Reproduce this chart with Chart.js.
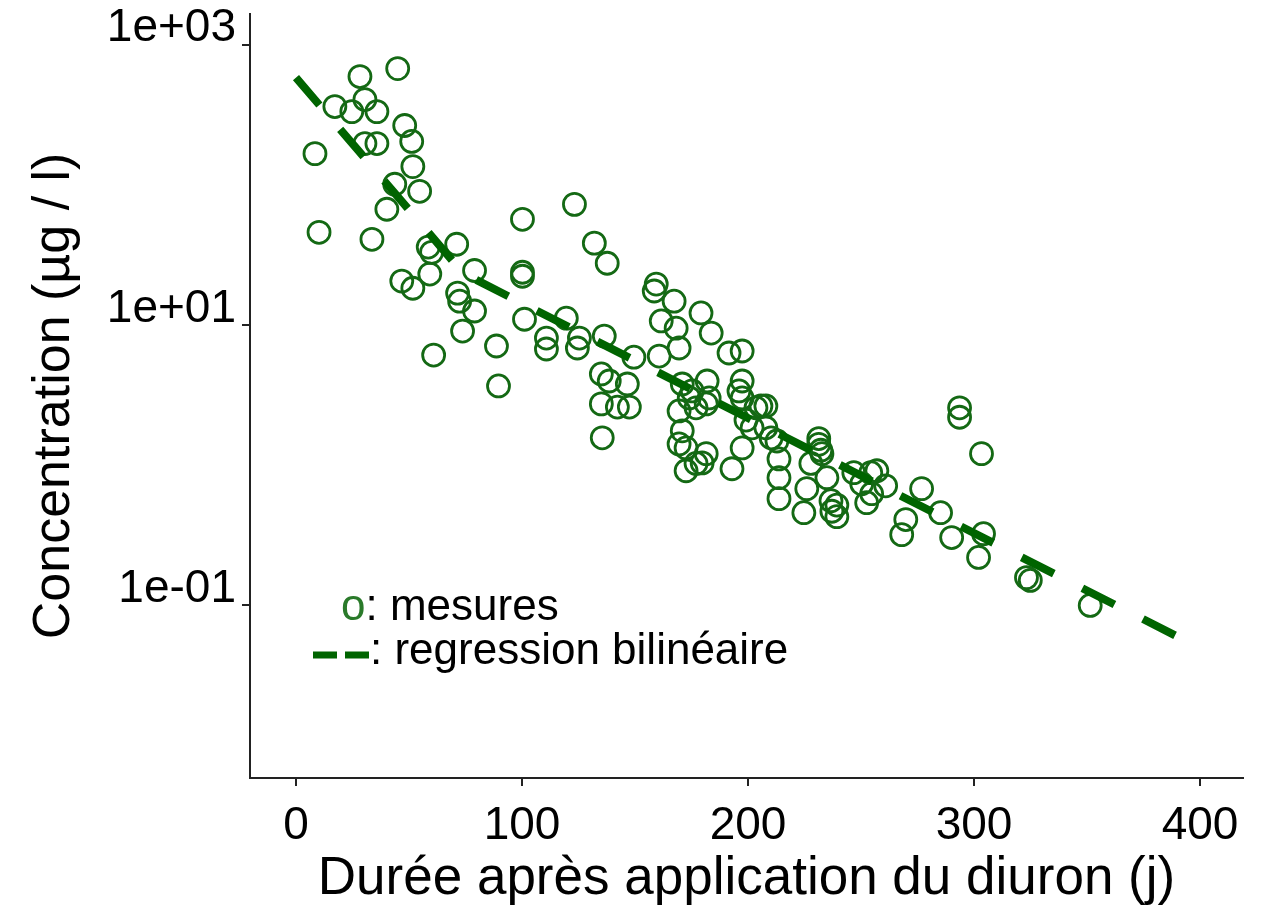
<!DOCTYPE html>
<html lang="fr">
<head>
<meta charset="utf-8">
<title>Diuron - concentration</title>
<script src="https://cdn.jsdelivr.net/npm/chart.js@4.4.1/dist/chart.umd.min.js"></script>
<style>
  html, body { margin: 0; padding: 0; background: #fff; }
  #wrap { width: 1268px; height: 910px; }
</style>
</head>
<body>
<div id="wrap"><canvas id="chart" width="1268" height="910"></canvas></div>
<script>
// mesures (jours après application, concentration en µg/l)
const jours = [
  8.4, 10.2, 17.2, 24.7, 28.3, 30.5, 30.5, 33.6, 35.8, 35.8,
  40.2, 43.7, 45.0, 46.8, 48.1, 51.2, 51.7, 51.7, 54.7, 58.5,
  60.0, 59.2, 60.9, 71.1, 71.5, 72.4, 73.7, 79.0, 79.0, 88.7,
  89.6, 100.2, 100.2, 100.2, 101.1, 110.8, 110.8, 119.6, 123.2, 124.5,
  125.4, 132.0, 135.1, 135.1, 135.5, 136.4, 137.7, 138.6, 142.2, 146.6,
  147.5, 149.5, 158.5, 159.4, 160.7, 161.6, 167.3, 168.2, 169.5, 169.5,
  169.5, 170.9, 170.9, 172.6, 172.6, 174.0, 175.3, 177.0, 177.0, 179.2,
  179.7, 181.5, 181.5, 181.9, 182.8, 183.7, 191.6, 192.9, 196.0, 197.4,
  197.4, 197.4, 197.4, 199.1, 201.8, 203.5, 205.7, 207.9, 207.9, 210.2,
  212.8, 213.7, 213.7, 213.7, 224.7, 226.0, 227.8, 231.3, 231.3, 232.2,
  232.7, 234.9, 236.7, 239.3, 237.1, 239.3, 246.8, 250.3, 252.5, 254.3,
  254.7, 257.0, 260.9, 268.0, 269.8, 276.8, 285.2, 290.1, 293.6, 293.6,
  302.0, 303.3, 304.2, 323.2, 324.9, 351.4
];
const concentrations = [
  167, 45.9, 362, 333, 592, 406, 197, 40.9, 333, 197,
  67, 101, 675, 20.6, 265, 204, 135, 18.3, 90, 36,
  33, 23.1, 6.11, 37.7, 16.9, 14.8, 9.06, 24.5, 12.6, 7.09,
  3.68, 56.8, 23.8, 22.3, 11.0, 8.08, 6.75, 11.2, 72.6, 6.86,
  8.08, 38.4, 4.48, 2.74, 1.57, 8.35, 27.6, 3.99, 2.6, 3.80,
  2.6, 5.9, 17.5, 19.6, 6.01, 10.7, 14.8, 9.5, 6.86, 2.44,
  1.42, 3.80, 1.76, 1.33, 0.914, 3.02, 3.39, 2.57, 1.03, 12.2,
  1.04, 2.74, 1.21, 3.99, 3.02, 8.77, 6.32, 0.944, 3.39, 6.53,
  3.99, 3.02, 1.33, 2.1, 1.85, 2.57, 2.65, 2.65, 1.85, 1.57,
  1.49, 1.11, 0.815, 0.578, 0.459, 0.681, 1.03, 1.55, 1.41, 1.28,
  1.21, 0.815, 0.559, 0.52, 0.47, 0.43, 0.885, 0.738, 0.541, 0.885,
  0.627, 0.914, 0.714, 0.32, 0.41, 0.681, 0.459, 0.305, 2.57, 2.2,
  0.220, 1.21, 0.325, 0.158, 0.151, 0.100
];

// régression bilinéaire (deux segments en échelle log)
const regJours = [0, 74, 390];
const regConc = [582, 23.4, 0.060];

const xTicks = [0, 100, 200, 300, 400];
const yTicks = [0.1, 10, 1000];
const yTickLabels = ['1e-01', '1e+01', '1e+03'];

const police = '"Liberation Sans", Arial, Helvetica, sans-serif';
const vertPoints = '#146914';
const vertLigne = '#006400';
const noir = '#000';

const legendeTexte = {
  id: 'legendeTexte',
  afterDraw(chart) {
    const ctx = chart.ctx;
    ctx.save();
    ctx.font = '44px ' + police;
    ctx.textBaseline = 'alphabetic';
    ctx.textAlign = 'left';
    ctx.fillStyle = '#2a7a2a';
    ctx.fillText('o', 341, 620);
    const w = ctx.measureText('o').width;
    ctx.fillStyle = noir;
    ctx.fillText(': mesures', 341 + w, 620);

    ctx.strokeStyle = vertLigne;
    ctx.lineWidth = 7;
    ctx.lineCap = 'butt';
    ctx.beginPath();
    ctx.moveTo(313, 655); ctx.lineTo(337, 655);
    ctx.moveTo(345, 655); ctx.lineTo(369, 655);
    ctx.stroke();
    ctx.fillStyle = noir;
    ctx.fillText(': regression bilinéaire', 370, 664);
    ctx.restore();
  }
};

const mesures = jours.map((j, i) => ({ x: j, y: concentrations[i] }));
const regression = regJours.map((j, i) => ({ x: j, y: regConc[i] }));

new Chart(document.getElementById('chart'), {
  type: 'scatter',
  data: {
    datasets: [
      {
        label: 'regression bilinéaire',
        type: 'line',
        data: regression,
        borderColor: vertLigne,
        borderWidth: 8,
        borderDash: [36, 32],
        borderCapStyle: 'butt',
        pointRadius: 0,
        fill: false,
        tension: 0,
        order: 0
      },
      {
        label: 'mesures',
        data: mesures,
        pointStyle: 'circle',
        pointRadius: 11,
        pointBorderWidth: 2.8,
        pointBackgroundColor: 'rgba(0,0,0,0)',
        pointBorderColor: vertPoints,
        pointHoverRadius: 11,
        order: 1
      }
    ]
  },
  options: {
    responsive: false,
    devicePixelRatio: 1,
    animation: false,
    events: [],
    layout: { padding: { top: 12, right: 25, left: 0, bottom: 0 } },
    plugins: {
      legend: { display: false },
      tooltip: { enabled: false }
    },
    scales: {
      x: {
        type: 'linear',
        min: -20.35,
        max: 419,
        afterBuildTicks: (scale) => {
          scale.ticks = xTicks.map(v => ({ value: v }));
        },
        afterFit: (scale) => {
          scale.height = 132;
          scale.paddingLeft = 0;
          scale.paddingRight = 0;
        },
        ticks: {
          color: noir,
          padding: 17,
          maxRotation: 0,
          font: { family: police, size: 46, lineHeight: 1 }
        },
        grid: {
          drawOnChartArea: false,
          drawTicks: true,
          tickLength: 8,
          color: '#222',
          lineWidth: 2
        },
        border: { display: true, color: '#222', width: 2 },
        title: {
          display: true,
          text: 'Durée après application du diuron (j)',
          color: noir,
          font: { family: police, size: 53, lineHeight: 1 },
          padding: { top: 0, bottom: 4 }
        }
      },
      y: {
        type: 'logarithmic',
        min: 0.00588,
        max: 1660,
        afterBuildTicks: (scale) => {
          scale.ticks = yTicks.map(v => ({ value: v }));
        },
        afterFit: (scale) => {
          scale.width = 250;
          scale.paddingTop = 0;
          scale.paddingBottom = 0;
        },
        ticks: {
          color: noir,
          padding: 6,
          labelOffset: -16,
          font: { family: police, size: 46, lineHeight: 1 },
          callback: (v) => {
            const i = yTicks.indexOf(v);
            return i >= 0 ? yTickLabels[i] : '';
          }
        },
        grid: {
          drawOnChartArea: false,
          drawTicks: true,
          tickLength: 8,
          color: '#222',
          lineWidth: 2
        },
        border: { display: true, color: '#222', width: 2 },
        title: {
          display: true,
          text: 'Concentration (µg / l)',
          color: noir,
          font: { family: police, size: 52, lineHeight: 1 },
          padding: { top: 29, bottom: 0 }
        }
      }
    }
  },
  plugins: [legendeTexte]
});
</script>
</body>
</html>
